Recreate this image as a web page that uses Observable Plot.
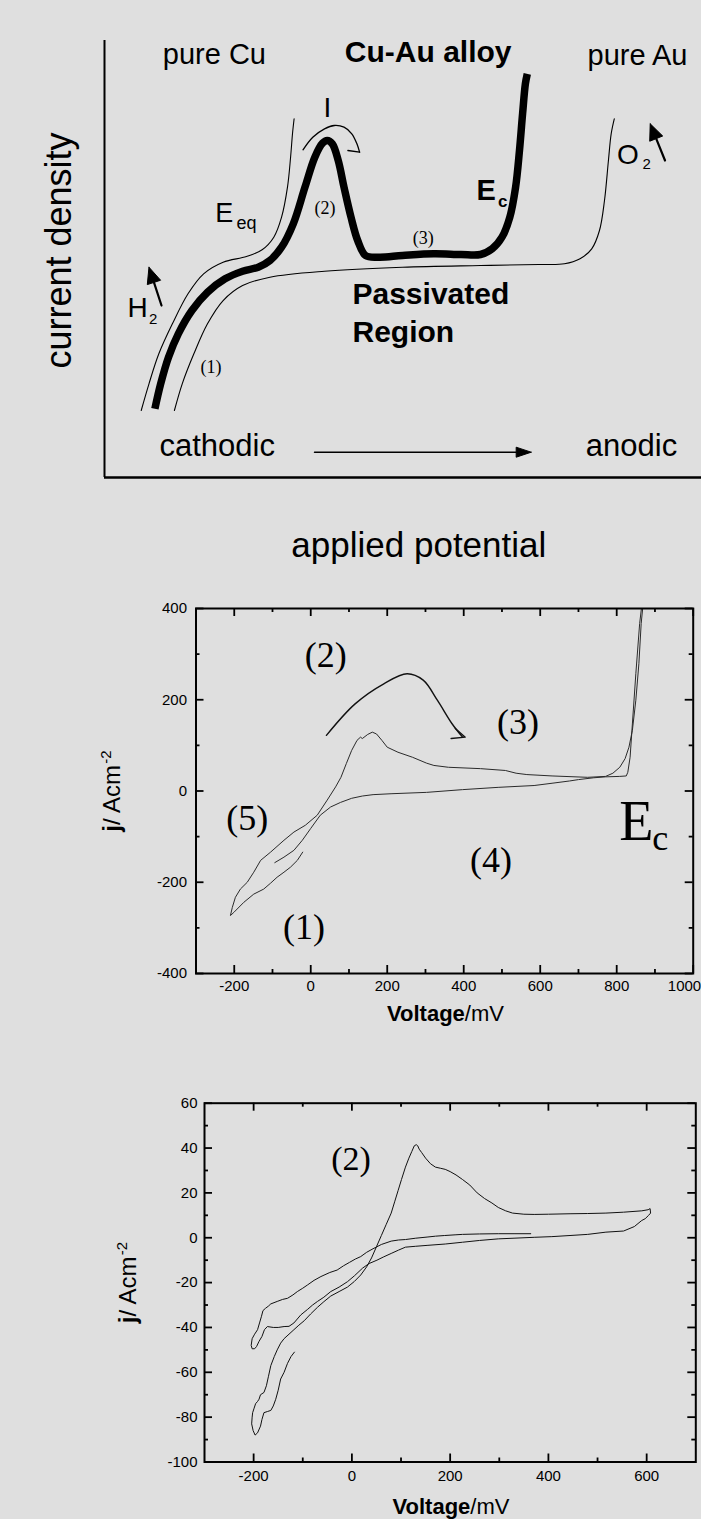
<!DOCTYPE html>
<html><head><meta charset="utf-8">
<script src="https://cdn.jsdelivr.net/npm/d3@7"></script>
<script src="https://cdn.jsdelivr.net/npm/@observablehq/plot@0.6"></script>
<style>
html,body{margin:0;padding:0;background:#dfdfdf;overflow:hidden;}
#root{width:701px;}
#root svg{display:block;}
</style></head><body><div id="root"></div>
<script>
// ---------- Panel 1: schematic (arbitrary units: potential 0-100, current density 0-100) ----------
const cuCurve = [[6.15,15.33],[7.45,21.44],[9.10,28.31],[11.37,35.17],[13.99,42.04],[16.60,46.61],[19.87,49.27],[23.79,50.57],[26.40,52.11],[28.36,54.99],[29.66,59.57],[30.65,66.43],[31.17,73.30],[31.49,78.65],[31.76,82.08]];
const auCurve = [[11.71,15.33],[13.02,21.44],[14.97,28.31],[17.25,35.17],[19.87,40.50],[23.13,43.94],[27.71,45.84],[36.85,47.21],[49.92,48.12],[62.98,48.51],[72.78,48.74],[77.04,48.90],[79.65,50.05],[81.61,52.33],[82.91,56.52],[83.75,63.39],[84.41,72.54],[84.87,78.65],[85.39,82.08]];
const alloyCurve = [[8.44,15.72],[9.41,21.44],[10.72,27.53],[12.36,32.88],[14.64,38.22],[17.25,42.40],[20.20,45.47],[23.13,47.21],[25.75,48.12],[27.71,49.66],[29.66,52.70],[31.62,58.05],[33.58,66.43],[35.23,73.30],[36.52,76.50],[37.30,77.12],[38.16,76.36],[39.15,72.54],[40.12,66.43],[41.29,59.57],[42.41,54.23],[43.72,50.80],[46.00,50.41],[49.92,50.80],[55.14,51.19],[59.72,51.03],[62.98,51.03],[64.94,52.33],[66.58,54.99],[67.89,59.57],[68.86,66.43],[69.51,74.83],[70.03,83.23],[70.50,90.09],[70.82,92.38]];
const iArrow = [[33.25,74.99],[34.89,77.87],[36.85,79.79],[38.49,80.55],[40.12,80.16],[41.42,78.65],[42.28,76.36],[42.73,74.44]];
const iBarb = [[42.73,74.44],[40.77,74.83]];
const h2Arrow = {from: [9.55,39.36], tip: [7.45,48.12]};
const o2Arrow = {from: [93.89,72.54], tip: [91.41,80.94]};
const sweepArrow = {from: [35.18,5.79], tip: [71.47,5.79]};

// ---------- Panel 2: CV up to 1000 mV ----------
const cv1 = [[-21,-134],[-35,-152],[-53,-167],[-70,-178],[-88,-189],[-105,-202],[-123,-215],[-149,-226],[-175,-244],[-201,-266],[-210,-273],
[-205,-255],[-197,-233],[-184,-215],[-166,-200],[-149,-178],[-131,-152],[-105,-134],[-70,-108],[-44,-90],[-14,-75],[17,-53],[43,-20],[65,9],[79,30],[93,60],[107,89],[121,111],[130,118],[135,115],[149,124],[161,129],[172,125],[186,111],[200,96],[228,85],[266,74],[303,61],[322,56],[360,52],[444,49],[509,45],[537,39],[565,36],[631,33],[724,30],[771,32],[790,39],[808,52],[822,71],[832,96],[841,133],[850,199],[858,279],[864,367],[869,410],
[866,410],[860,367],[850,257],[841,147],[835,74],[829,41],[825,33],[808,32],[771,31],[740,29],[700,25],[677,22],[631,17],[584,12],[490,8],[397,3],[303,-3],[210,-6],[163,-8],[135,-11],[107,-16],[78,-25],[52,-35],[25,-53],[0,-82],[-22,-108],[-44,-130],[-70,-145],[-94,-157]];
const sweepArc = [[41,122],[116,191],[191,235],[252,257],[294,243],[331,199],[369,148],[397,118]];
const sweepHead = [[367,115],[404,118],[378,137]];
const midXTicks = [-200,0,200,400,600,800,1000];
const midXMinor = [-100,100,300,500,700,900];
const midYTicks = [-400,-200,0,200,400];
const midYMinor = [-300,-100,100,300];

// ---------- Panel 3: CV up to 600 mV ----------
const cv2 = [[-117,-51],[-124,-53],[-131,-56],[-138,-60],[-145,-63],[-150,-68],[-155,-72],[-160,-75],[-165,-77],[-172,-77.5],[-179,-78],[-183,-81],[-186,-84],[-192,-87],[-197,-88],[-201,-86],[-204,-83],[-203,-80],[-202,-78],[-199,-76],[-196,-74],[-192,-73],[-189,-72],[-186,-70],[-179,-69],[-174,-66],[-170,-62],[-165,-57],[-158,-53],[-152,-50],[-145,-47],[-138,-45],[-128,-43],[-118,-41],[-108,-39],[-97,-37],[-84,-34],[-70,-31],[-57,-28.5],[-43,-26],[-26,-24],[-9,-22],[5,-19.5],[18,-16.6],[30,-13],[40,-9],[50,-4],[60,1],[70,6],[80,11],[87,16],[94,21],[101,26],[109,31.5],[116,35.5],[122,38.5],[127,41],[131,41.5],[134,41],[137,39.5],[142,38],[150,35.5],[160,33],[170,31.5],[180,31],[190,30.5],[200,29.5],[212,28],[225,26],[240,23.5],[255,20],[270,17.5],[285,15.5],[298,13.5],[313,12],[327,11],[350,10.5],[371,10.4],[400,10.5],[444,10.7],[480,10.8],[517,11],[553,11.4],[590,12],[603,12.5],[607,13],[608,11],[604,10],[597,8.5],[590,7.7],[575,5],[553,3],[517,2.5],[480,1.5],[444,1],[407,0.5],[371,0.2],[330,-0.2],[298,-0.5],[260,-1.2],[225,-2],[190,-2.8],[153,-3.4],[130,-3.8],[109,-4.2],[95,-5.5],[80,-7],[65,-8.5],[51,-10],[35,-11.5],[22,-13.5],[5,-17],[-9,-19.6],[-26,-22],[-43,-24],[-57,-26.5],[-70,-28.4],[-80,-30],[-90,-31.9],[-104,-34.4],[-118,-38],[-128,-39.5],[-138,-39.6],[-150,-40],[-160,-40],[-172,-39.6],[-178,-41],[-183,-44],[-189,-46.2],[-194,-48.5],[-198,-49.5],[-203,-49.5],[-205,-48],[-203,-45],[-198,-43],[-192,-41],[-188,-38],[-184,-35],[-181,-32.5],[-176,-31.5],[-170,-30.5],[-165,-29.5],[-152,-28.4],[-141,-27.5],[-131,-27],[-120,-25.5],[-111,-24],[-100,-22.5],[-90,-21],[-77,-19],[-63,-17.3],[-45,-15.5],[-30,-14.4],[-17,-12.5],[-5,-11],[7,-9.5],[18,-8.4],[30,-6.5],[43,-4.9],[60,-3],[80,-1.5],[95,-1],[109,-0.8],[130,-0.2],[153,0.3],[170,0.7],[189,1],[210,1.3],[225,1.5],[260,1.7],[298,1.8],[330,1.8],[364,1.8]];
const botXTicks = [-200,0,200,400,600];
const botXMinor = [-100,100,300,500];
const botYTicks = [-100,-80,-60,-40,-20,0,20,40,60];
const botYMinor = [-90,-70,-50,-30,-10,10,30,50];

// ---------- rendering ----------
const SANS = "Liberation Sans, Arial, Helvetica, sans-serif";
const SERIF = "Liberation Serif, Times New Roman, serif";
const root = document.getElementById("root");
const fmt = d => String(d);

function lbl(text, x, y, o = {}) {
  return Plot.text([{x, y, t: text}], {x: "x", y: "y", text: "t", fontFamily: SANS, fill: "black", lineAnchor: "bottom", ...o});
}
// filled arrow: shaft + triangular head; px sizes converted with the panel's units-per-pixel
function filledArrow(a, len, half, kx, ky, sw) {
  const [fx, fy] = a.from, [tx, ty] = a.tip;
  let dx = (tx - fx) * kx, dy = -(ty - fy) * ky; // screen px
  const n = Math.hypot(dx, dy); dx /= n; dy /= n;
  const bx = -dx * len, by = -dy * len;        // base centre offset (px)
  const px = -dy * half, py = dx * half;        // perpendicular (px)
  const toD = (ox, oy) => [tx + ox / kx, ty - oy / ky];
  const tri = [[tx, ty], toD(bx + px, by + py), toD(bx - px, by - py), [tx, ty]];
  const shaft = [[fx, fy], toD(bx, by)];
  return [
    Plot.line(shaft, {stroke: "black", strokeWidth: sw}),
    Plot.line(tri, {stroke: "black", fill: "black", strokeWidth: 1, strokeLinejoin: "miter"})
  ];
}
function frameTicks(xs, ys, len, fw, fh) {
  return [
    Plot.ruleX(xs, {x: d => d, insetTop: fh - len, strokeWidth: 1.8, stroke: "black"}),
    Plot.ruleX(xs, {x: d => d, insetBottom: fh - len, strokeWidth: 1.8, stroke: "black"}),
    Plot.ruleY(ys, {y: d => d, insetRight: fw - len, strokeWidth: 1.8, stroke: "black"}),
    Plot.ruleY(ys, {y: d => d, insetLeft: fw - len, strokeWidth: 1.8, stroke: "black"})
  ];
}

// Panel 1
const m1 = {l: 104, r: 0, t: 40, b: 103, w: 701, h: 580};
const kx1 = (m1.w - m1.l - m1.r) / 100, ky1 = (m1.h - m1.t - m1.b) / 100;
const p1 = Plot.plot({
  width: m1.w, height: m1.h,
  marginLeft: m1.l, marginRight: m1.r, marginTop: m1.t, marginBottom: m1.b,
  x: {domain: [0, 100], axis: null},
  y: {domain: [0, 100], axis: null},
  style: {background: "transparent", overflow: "visible", fontFamily: SANS},
  marks: [
    Plot.ruleX([0], {y1: 0, y2: 100, strokeWidth: 2, stroke: "black"}),
    Plot.ruleY([0], {x1: 0, x2: 100, strokeWidth: 2.4, stroke: "black"}),
    Plot.line(cuCurve, {curve: "catmull-rom", stroke: "black", strokeWidth: 1.1}),
    Plot.line(auCurve, {curve: "catmull-rom", stroke: "black", strokeWidth: 1.1}),
    Plot.line(alloyCurve, {curve: "catmull-rom", stroke: "black", strokeWidth: 7.5, strokeLinecap: "butt", strokeLinejoin: "round"}),
    Plot.line(iArrow, {curve: "catmull-rom", stroke: "black", strokeWidth: 1.3}),
    Plot.line(iBarb, {stroke: "black", strokeWidth: 1.3}),
    ...filledArrow(h2Arrow, 16, 7, kx1, ky1, 2.2),
    ...filledArrow(o2Arrow, 16, 7, kx1, ky1, 2.2),
    ...filledArrow(sweepArrow, 15, 5, kx1, ky1, 1.5),
    lbl("pure Cu", 18.41, 94.67, {fontSize: 29, textAnchor: "middle"}),
    lbl("Cu-Au alloy", 54.22, 95.03, {fontSize: 30, fontWeight: "bold", textAnchor: "middle"}),
    lbl("pure Au", 89.28, 94.28, {fontSize: 29, textAnchor: "middle"}),
    lbl("I", 37.35, 82.45, {fontSize: 28, textAnchor: "middle"}),
    lbl("E", 18.56, 58.42, {fontSize: 27, textAnchor: "start"}),
    lbl("eq", 22.11, 56.91, {fontSize: 18, textAnchor: "start"}),
    lbl("(2)", 36.92, 60.34, {fontSize: 18, fontFamily: SERIF, textAnchor: "middle"}),
    lbl("(3)", 53.40, 53.48, {fontSize: 18, fontFamily: SERIF, textAnchor: "middle"}),
    lbl("(1)", 17.84, 23.96, {fontSize: 18, fontFamily: SERIF, textAnchor: "middle"}),
    lbl("E", 62.31, 63.39, {fontSize: 29, fontWeight: "bold", textAnchor: "start"}),
    lbl("c", 65.93, 61.85, {fontSize: 17, fontWeight: "bold", textAnchor: "start"}),
    lbl("H", 3.85, 36.84, {fontSize: 28, textAnchor: "start"}),
    lbl("2", 7.45, 35.17, {fontSize: 15, textAnchor: "start"}),
    lbl("O", 85.85, 71.78, {fontSize: 28, textAnchor: "start"}),
    lbl("2", 90.10, 70.64, {fontSize: 15, textAnchor: "start"}),
    lbl("Passivated", 41.54, 39.59, {fontSize: 30, fontWeight: "bold", textAnchor: "start"}),
    lbl("Region", 41.54, 30.96, {fontSize: 30, fontWeight: "bold", textAnchor: "start"}),
    lbl("cathodic", 18.88, 5.03, {fontSize: 31, textAnchor: "middle"}),
    lbl("anodic", 88.27, 5.03, {fontSize: 31, textAnchor: "middle"}),
    lbl("current density", -5.53, 51.95, {fontSize: 36, textAnchor: "middle", rotate: -90}),
    lbl("applied potential", 52.65, -18.24, {fontSize: 35, textAnchor: "middle"})
  ]
});
root.appendChild(p1);

function yLabel(dx, fs) {
  return [
    Plot.text(["j"], {frameAnchor: "left", dx, dy: 40.7, rotate: -90, textAnchor: "start", lineAnchor: "bottom", fontWeight: "bold", fontSize: fs, fontFamily: SANS}),
    Plot.text(["/ Acm"], {frameAnchor: "left", dx, dy: 34, rotate: -90, textAnchor: "start", lineAnchor: "bottom", fontSize: fs, fontFamily: SANS}),
    Plot.text(["-2"], {frameAnchor: "left", dx: dx - 9, dy: -27.3, rotate: -90, textAnchor: "start", lineAnchor: "bottom", fontSize: 15, fontFamily: SANS})
  ];
}
function xLabel(dy) {
  return [
    Plot.text(["Voltage"], {frameAnchor: "bottom", dx: 20.2, dy, textAnchor: "end", lineAnchor: "middle", fontWeight: "bold", fontSize: 22, fontFamily: SANS}),
    Plot.text(["/mV"], {frameAnchor: "bottom", dx: 20.2, dy, textAnchor: "start", lineAnchor: "middle", fontSize: 22, fontFamily: SANS})
  ];
}

// Panel 2
const m2 = {l: 195.5, r: 8.3, t: 28, b: 67, w: 701, h: 460};
const fw2 = m2.w - m2.l - m2.r, fh2 = m2.h - m2.t - m2.b;
const midXLabelled = midXTicks.filter(d => d < 1000);
const p2 = Plot.plot({
  width: m2.w, height: m2.h,
  marginLeft: m2.l, marginRight: m2.r, marginTop: m2.t, marginBottom: m2.b,
  x: {domain: [-300, 1000], ticks: midXLabelled, tickSize: 0, tickPadding: 7, tickFormat: fmt, label: null},
  y: {domain: [-400, 400], ticks: midYTicks, tickSize: 0, tickPadding: 9, tickFormat: fmt, label: null},
  style: {background: "transparent", overflow: "visible", fontFamily: SANS, fontSize: "15px", color: "black"},
  marks: [
    Plot.line(cv1, {stroke: "#2a2a2a", strokeWidth: 1, clip: true}),
    Plot.line(sweepArc, {curve: "catmull-rom", stroke: "#111", strokeWidth: 1.4}),
    Plot.line(sweepHead, {stroke: "#111", strokeWidth: 1.4}),
    ...frameTicks(midXTicks, midYTicks, 8, fw2, fh2),
    ...frameTicks(midXMinor, midYMinor, 4, fw2, fh2),
    Plot.frame({stroke: "black", strokeWidth: 2}),
    // last tick label sits at the right edge of the window
    Plot.text(midXTicks.filter(d => d >= 1000), {x: d => d, frameAnchor: "bottom", text: fmt, dy: 12.5, dx: 8, textAnchor: "end", lineAnchor: "middle", fontSize: 15, fontFamily: SANS}),
    lbl("(2)", 39.5, 297.5, {fontSize: 36, fontFamily: SERIF, textAnchor: "middle", lineAnchor: "middle"}),
    lbl("(3)", 541.8, 151.2, {fontSize: 36, fontFamily: SERIF, textAnchor: "middle", lineAnchor: "middle"}),
    lbl("(5)", -166.3, -61.1, {fontSize: 36, fontFamily: SERIF, textAnchor: "middle", lineAnchor: "middle"}),
    lbl("(4)", 471.6, -152.6, {fontSize: 36, fontFamily: SERIF, textAnchor: "middle", lineAnchor: "middle"}),
    lbl("(1)", -17.5, -299, {fontSize: 36, fontFamily: SERIF, textAnchor: "middle", lineAnchor: "middle"}),
    lbl("E", 806.5, -106.8, {fontSize: 56, fontFamily: SERIF, textAnchor: "start"}),
    lbl("c", 892.8, -130.3, {fontSize: 36, fontFamily: SERIF, textAnchor: "start"}),
    ...yLabel(-(195.5 - 119), 24),
    ...xLabel(40)
  ]
});
root.appendChild(p2);

// Panel 3
const m3 = {l: 204, r: 5.7, t: 62.7, b: 57.5, w: 701, h: 479};
const fw3 = m3.w - m3.l - m3.r, fh3 = m3.h - m3.t - m3.b;
const p3 = Plot.plot({
  width: m3.w, height: m3.h,
  marginLeft: m3.l, marginRight: m3.r, marginTop: m3.t, marginBottom: m3.b,
  x: {domain: [-300, 700], ticks: botXTicks, tickSize: 0, tickPadding: 8, tickFormat: fmt, label: null},
  y: {domain: [-100, 60], ticks: botYTicks, tickSize: 0, tickPadding: 7, tickFormat: fmt, label: null},
  style: {background: "transparent", overflow: "visible", fontFamily: SANS, fontSize: "15px", color: "black"},
  marks: [
    Plot.line(cv2, {stroke: "#111", strokeWidth: 1}),
    ...frameTicks(botXTicks, botYTicks, 8, fw3, fh3),
    ...frameTicks(botXMinor, botYMinor, 4, fw3, fh3),
    Plot.frame({stroke: "black", strokeWidth: 2}),
    lbl("(2)", -1.6, 35.2, {fontSize: 34, fontFamily: SERIF, textAnchor: "middle", lineAnchor: "middle"}),
    ...yLabel(-(204 - 135), 24),
    ...xLabel(45)
  ]
});
root.appendChild(p3);
</script></body></html>
